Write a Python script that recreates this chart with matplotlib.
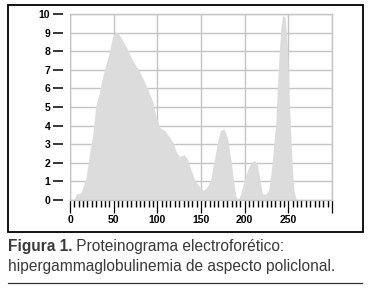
import matplotlib
matplotlib.use("Agg")
import matplotlib.pyplot as plt
from matplotlib.patches import Rectangle
from matplotlib.lines import Line2D

# perfil densitométrico
pos = [5, 6, 8, 13, 15, 19, 23, 27, 30, 34, 38, 42, 46, 49, 51, 55, 59, 65,
       72, 80, 88, 95, 99, 103, 109, 114, 118, 122, 126, 131, 135, 139, 143,
       147, 151, 154, 158, 162, 166, 170, 173, 177, 181, 185, 189, 191, 194,
       196, 200, 204, 208, 212, 215, 219, 221, 225, 228, 231, 233, 236, 238,
       240, 242, 244, 247, 250, 251.5, 253.5, 255.4, 257, 259, 260]
dens = [0, 0.1, 0.3, 0.35, 0.6, 1.2, 2.5, 3.6, 5.0, 5.7, 6.6, 7.3, 8.0, 8.7,
        8.9, 9.0, 8.7, 8.2, 7.5, 6.9, 6.1, 5.3, 4.5, 3.9, 3.7, 3.4, 3.1, 2.6,
        2.3, 2.4, 2.2, 1.6, 1.1, 0.8, 0.6, 0.5, 0.7, 1.1, 2.2, 3.2, 3.7, 3.8,
        3.3, 2.1, 0.6, 0.1, 0.05, 0.3, 1.0, 1.6, 2.0, 2.1, 1.9, 0.8, 0.3, 0.3,
        0.5, 1.5, 2.5, 4.0, 6.0, 7.8, 9.2, 9.9, 9.8, 7.8, 5.5, 3.3, 1.5, 0.5,
        0.1, 0]

xticks = [0, 50, 100, 150, 200, 250]
yticks = list(range(0, 11))
caption_bold = "Figura 1."
caption_1 = " Proteinograma electroforético:"
caption_2 = "hipergammaglobulinemia de aspecto policlonal."

plt.rcParams['font.family'] = ['Liberation Sans', 'DejaVu Sans']
W, H = 374, 289
fig = plt.figure(figsize=(W / 100, H / 100), dpi=100)

ax = fig.add_axes([70 / W, 1 - 200 / H, 262 / W, 186 / H])
# las marcas del eje y quedan separadas del área del gráfico
ax.spines["left"].set_position(("outward", 5))
ax.spines["left"].set_visible(False)
for s in ["top", "right", "bottom"]:
    ax.spines[s].set_color("#c4c4c4")
    ax.spines[s].set_linewidth(1)
ax.set_axisbelow(True)

ax.set_xlim(0, 300)
ax.set_ylim(0, 10)
ax.axvline(0, color="#c4c4c4", lw=1, zorder=0.6)
# el perfil empieza y acaba en 0, así que basta con un polígono
ax.fill(pos, dens, color="#dcdcdc", lw=0, zorder=1)

ax.set_xticks(xticks + [300])
ax.set_xticklabels([str(t) for t in xticks] + [""], fontweight="bold")
ax.set_xticks(list(range(0, 301, 5)), minor=True)
ax.set_yticks(yticks)
ax.set_yticklabels([str(t) for t in yticks], fontweight="bold")
ax.grid(True, which="major", color="#c4c4c4", lw=1)

ax.tick_params(axis="x", which="major", direction="out", length=9.5,
               width=0.9, color="black", pad=1.5, labelsize=7.5)
ax.tick_params(axis="x", which="minor", direction="out", length=5,
               width=1.0, color="black")
ax.tick_params(axis="y", which="major", direction="out", length=7.2,
               width=1.1, color="black", pad=2, labelsize=7.5)

# marco exterior y línea inferior
fig.patches.append(Rectangle((8 / W, 1 - 232 / H), 355 / W, 227 / H,
                             transform=fig.transFigure, fill=False,
                             ec="black", lw=1.3))
fig.lines.append(Line2D([8 / W, 362 / W], [1 - 283 / H, 1 - 283 / H],
                        transform=fig.transFigure, color="#333333", lw=0.9))

col = "#3a3a3a"
fs = 11.2
t1 = fig.text(8 / W, 1 - 247 / H, caption_bold, fontsize=fs,
              fontweight="bold", color=col, va="center", ha="left")
fig.canvas.draw()
bb = t1.get_window_extent()
fig.text(bb.x1 / W, 1 - 247 / H, caption_1, fontsize=fs, color=col,
         va="center", ha="left")
fig.text(8 / W, 1 - 267 / H, caption_2, fontsize=fs, color=col,
         va="center", ha="left")

fig.savefig("out.png", dpi=100)
